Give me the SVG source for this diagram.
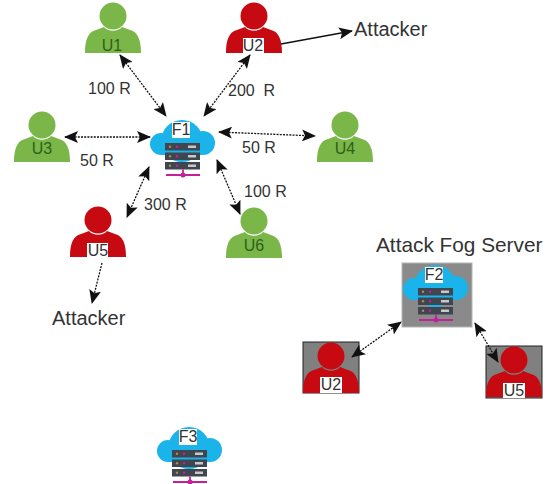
<svg xmlns="http://www.w3.org/2000/svg" width="555" height="484" viewBox="0 0 555 484">
<style>
text{font-family:"Liberation Sans",Arial,sans-serif;fill:#333;white-space:pre}
.lb{font-size:16px}
.big{font-size:20px}
.tag{font-size:16px;text-anchor:middle}
.dg{fill:#2f5f1c}
.c{fill:none;stroke:#111;stroke-width:1.3;stroke-dasharray:2 1.2;marker-start:url(#as);marker-end:url(#ae)}
.s{fill:none;stroke:#111;stroke-width:1.5;marker-end:url(#ae)}
.d{fill:none;stroke:#111;stroke-width:1.3;stroke-dasharray:2 1.2;marker-end:url(#ae)}
.g{fill:#7ab648}
.r{fill:#c70a12}
.w{fill:#fff}
</style>
<defs>
<marker id="ae" viewBox="0 0 14 12" refX="13" refY="6" markerWidth="14" markerHeight="12" markerUnits="userSpaceOnUse" orient="auto"><path d="M0 0L14 6L0 12L3 6Z" fill="#111"/></marker>
<marker id="as" viewBox="0 0 14 12" refX="1" refY="6" markerWidth="14" markerHeight="12" markerUnits="userSpaceOnUse" orient="auto"><path d="M14 0L0 6L14 12L11 6Z" fill="#111"/></marker>
<g id="person"><circle cx="0" cy="-24" r="13.500"/><path d="M-28 13C-28 0-25-8-17-10L-9-13C-5-8 5-8 9-13L17-10C25-8 28 0 28 13Z"/></g>
<g id="server">
<g fill="#1ab4ea"><circle cx="32" cy="21" r="21"/><circle cx="11" cy="24" r="11"/><circle cx="53" cy="23" r="12"/><rect x="11" y="15" width="42" height="20"/></g>
<g fill="#3f4650"><rect x="15" y="23" width="35" height="7.500"/><rect x="15" y="32.500" width="35" height="7.500"/><rect x="15" y="42" width="35" height="7.500"/></g>
<g fill="#c8c8c8"><rect x="38" y="25.500" width="8" height="2.500"/><rect x="38" y="35" width="8" height="2.500"/><rect x="38" y="44.500" width="8" height="2.500"/></g>
<g fill="#b08a4a"><circle cx="20" cy="26.700" r="1.200"/><circle cx="20" cy="36.200" r="1.200"/><circle cx="20" cy="45.700" r="1.200"/></g>
<g fill="#c2219a"><circle cx="27" cy="26.700" r="1.200"/><circle cx="27" cy="36.200" r="1.200"/><circle cx="27" cy="45.700" r="1.200"/></g>
<path d="M33 49.500V55M16 55H50" stroke="#c2219a" stroke-width="1.800" fill="none"/><circle cx="33" cy="55" r="2.500" fill="#c2219a"/>
</g>
</defs>
<g id="U1"><use href="#person" x="113" y="40" class="g"/><text class="tag dg" x="112" y="51">U1</text></g>
<g id="U2"><use href="#person" x="254" y="40" class="r"/><rect class="w" x="243" y="38" width="21" height="15"/><text class="tag" x="253" y="51">U2</text></g>
<g id="U3"><use href="#person" x="42" y="149" class="g"/><text class="tag dg" x="42" y="154">U3</text></g>
<g id="U4"><use href="#person" x="345" y="149" class="g"/><text class="tag dg" x="345" y="154">U4</text></g>
<g id="U5"><use href="#person" x="98" y="244" class="r"/><rect class="w" x="87" y="243" width="21" height="15"/><text class="tag" x="98" y="256">U5</text></g>
<g id="U6"><use href="#person" x="254" y="245" class="g"/><text class="tag dg" x="254" y="251">U6</text></g>
<g id="F1"><use href="#server" x="150" y="120"/><rect class="w" x="172" y="122" width="18" height="16"/><text class="tag" x="181" y="135">F1</text></g>
<g id="F2"><rect x="402" y="263" width="70" height="64" fill="#8a8a8a" stroke="#b5b5b5"/><use href="#server" x="403" y="265"/><rect class="w" x="425" y="267" width="18" height="16"/><text class="tag" x="434" y="280">F2</text></g>
<g id="F3"><use href="#server" x="157" y="427"/><rect class="w" x="179" y="429" width="18" height="16"/><text class="tag" x="188" y="442">F3</text></g>
<g id="U2b"><rect x="303" y="342" width="56" height="51" fill="#808080" stroke="#222"/><use href="#person" x="331" y="380" class="r"/><rect class="w" x="320" y="377" width="22" height="16"/><text class="tag" x="331" y="390">U2</text></g>
<g id="U5b"><rect x="486" y="346" width="56" height="52" fill="#808080" stroke="#222"/><use href="#person" x="514" y="384" class="r"/><rect class="w" x="503" y="383" width="22" height="15"/><text class="tag" x="514" y="396">U5</text></g>
<g id="connectors">
<path class="c" d="M120 55L166 116"/>
<path class="c" d="M250 55L204 116"/>
<path class="c" d="M65 137H150"/>
<path class="c" d="M219 132L315 136"/>
<path class="c" d="M149 167L127 217"/>
<path class="c" d="M217 160L240 214"/>
<path class="s" d="M281 44L352 31"/>
<path class="d" d="M102 263L92 303"/>
<path class="c" d="M352 357L401 322"/>
<path class="c" d="M475 323L498 362"/>
</g>
<g id="labels">
<text class="lb" x="88" y="94">100 R</text>
<text class="lb" x="228" y="96">200  R</text>
<text class="lb" x="80" y="166">50 R</text>
<text class="lb" x="242" y="153">50 R</text>
<text class="lb" x="144" y="210">300 R</text>
<text class="lb" x="244" y="197">100 R</text>
<text class="big" x="354" y="36">Attacker</text>
<text class="big" x="52" y="325">Attacker</text>
<text class="big" x="376" y="252" style="font-size:20.800px">Attack Fog Server</text>
</g>
</svg>
